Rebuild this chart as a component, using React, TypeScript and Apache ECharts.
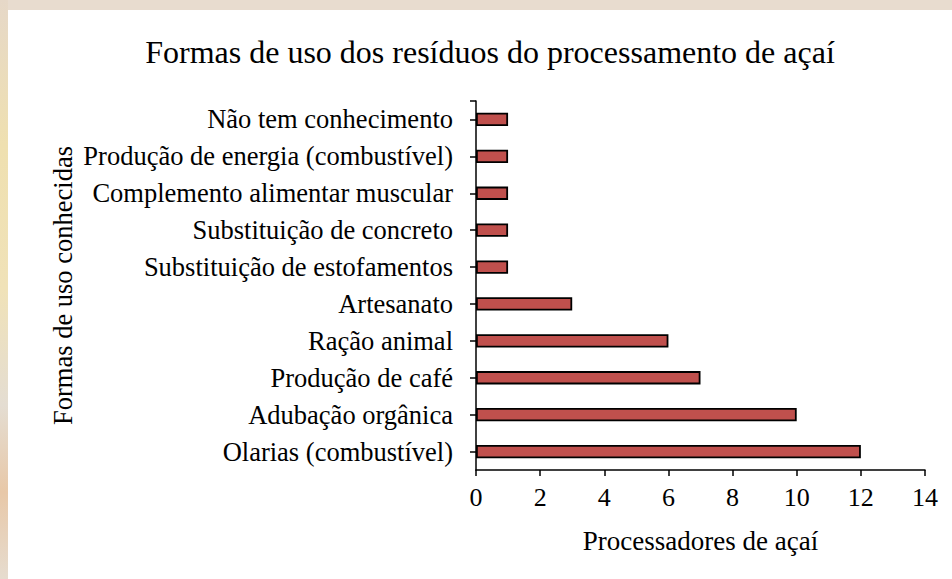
import React, { useEffect, useRef } from "react";
import * as echarts from "echarts";

const categories = [
  "Não tem conhecimento",
  "Produção de energia (combustível)",
  "Complemento alimentar muscular",
  "Substituição de concreto",
  "Substituição de estofamentos",
  "Artesanato",
  "Ração animal",
  "Produção de café",
  "Adubação orgânica",
  "Olarias (combustível)",
];
const values = [1, 1, 1, 1, 1, 3, 6, 7, 10, 12];
const xTicks = { min: 0, max: 14, interval: 2 };

const titleText = "Formas de uso dos resíduos do processamento de açaí";
const xName = "Processadores de açaí";
const yName = "Formas de uso conhecidas";

const FONT = "'Liberation Serif', 'Times New Roman', serif";

export default function App() {
  const ref = useRef<HTMLDivElement>(null);
  useEffect(() => {
    if (!ref.current) return;
    const chart = echarts.init(ref.current, null, { renderer: "svg" });
    chart.setOption({
      animation: false,
      backgroundColor: "#e8dccf",
      graphic: [
        {
          type: "rect",
          z: -10,
          shape: { x: 0, y: 0, width: 8, height: 579 },
          style: {
            fill: new echarts.graphic.LinearGradient(0, 0, 0, 1, [
              { offset: 0, color: "#e6d8c8" },
              { offset: 0.25, color: "#efe0b0" },
              { offset: 0.5, color: "#f0e2b8" },
              { offset: 0.7, color: "#e4ddd2" },
              { offset: 0.85, color: "#e8c8a8" },
              { offset: 1, color: "#e6dccf" },
            ]),
          },
          silent: true,
        },
        {
          type: "rect",
          z: -9,
          shape: { x: 8, y: 10, width: 944, height: 569 },
          style: { fill: "#ffffff" },
          silent: true,
        },
        {
          type: "text",
          x: 490,
          y: 52,
          style: {
            text: titleText,
            font: `32px ${FONT}`,
            fill: "#000",
            align: "center",
            verticalAlign: "middle",
          },
        },
        {
          type: "line",
          shape: { x1: 470, y1: 101, x2: 476, y2: 101 },
          style: { stroke: "#000", lineWidth: 1.5 },
          silent: true,
        },
      ],
      grid: { left: 476, right: 27, top: 101, bottom: 109, containLabel: false },
      xAxis: {
        type: "value",
        min: xTicks.min,
        max: xTicks.max,
        interval: xTicks.interval,
        name: xName,
        nameLocation: "middle",
        nameGap: 57,
        nameTextStyle: { fontFamily: FONT, fontSize: 27, color: "#000" },
        axisLine: { show: true, lineStyle: { color: "#000", width: 1.5 } },
        axisTick: { show: true, length: 6, lineStyle: { color: "#000", width: 1.5 } },
        axisLabel: { fontFamily: FONT, fontSize: 26, color: "#000", margin: 14 },
        splitLine: { show: false },
      },
      yAxis: {
        type: "category",
        data: categories,
        inverse: true,
        name: yName,
        nameLocation: "middle",
        nameGap: 400,
        nameRotate: 90,
        nameTextStyle: { fontFamily: FONT, fontSize: 26.5, color: "#000" },
        axisLine: { show: true, lineStyle: { color: "#000", width: 1.5 } },
        axisTick: { show: true, alignWithLabel: true, length: 6, lineStyle: { color: "#000", width: 1.5 } },
        axisLabel: { fontFamily: FONT, fontSize: 26.5, color: "#000", margin: 23 },
      },
      series: [
        {
          type: "bar",
          data: values,
          barWidth: "36%",
          itemStyle: { color: "#c0504d", borderColor: "#000", borderWidth: 1.8 },
        },
      ],
    });
    return () => chart.dispose();
  }, []);
  return (
    <div
      ref={ref}
      style={{ position: "fixed", left: 0, top: 0, width: 952, height: 579 }}
    />
  );
}
